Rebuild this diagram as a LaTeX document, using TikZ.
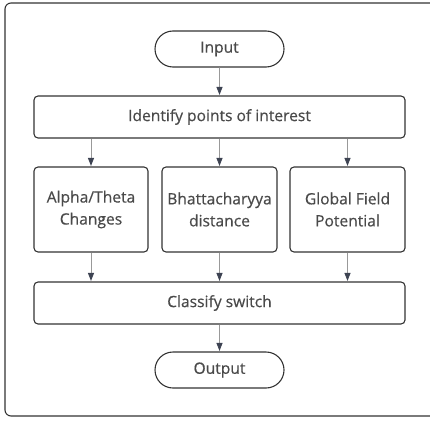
\documentclass[tikz,border=0pt]{standalone}
\usepackage{fontspec}
\setmainfont{Open Sans}
\newfontfamily\lblfont{Open Sans}[FakeBold=0.5]
\usetikzlibrary{arrows.meta,shapes.misc}
\definecolor{linec}{HTML}{333333}
\definecolor{textc}{HTML}{4A4A4A}
\definecolor{arrc}{HTML}{999999}
\definecolor{tipc}{HTML}{3D4352}
\tikzset{
  lbl/.style={text=textc, font=\lblfont\fontsize{15.6}{22}\selectfont, align=center, inner sep=0pt},
  box/.style={lbl, draw=linec, line width=1.1pt, rounded corners=4pt},
  term/.style={lbl, draw=linec, line width=1.1pt, rounded rectangle, minimum width=129pt, minimum height=36pt},
  conn/.style={draw=arrc, line width=0.9pt, -{Triangle[length=8pt,width=6pt,fill=tipc,color=tipc]}, shorten >=0.5pt}
}
\begin{document}
\begin{tikzpicture}[x=1pt,y=-1pt]
\useasboundingbox (0,0) rectangle (430,422);
\draw[draw=linec, line width=1.1pt, rounded corners=6pt] (5,3) rectangle (440,416);
\node[term] (in) at (219.5,49) {Input};
\node[box, minimum width=371pt, minimum height=42pt] (id) at (219.5,117) {Identify points of interest};
\node[box, minimum width=114pt, minimum height=85pt] (a) at (91,209.5) {Alpha/Theta\\Changes};
\node[box, minimum width=115pt, minimum height=85pt] (b) at (219.5,209.5) {Bhattacharyya\\distance};
\node[box, minimum width=115pt, minimum height=85pt] (c) at (347.5,209.5) {Global Field\\Potential};
\node[box, minimum width=371pt, minimum height=42pt] (cl) at (219.5,303) {Classify switch};
\node[term] (out) at (219.5,370) {Output};
\draw[conn] (in) -- (id);
\draw[conn] (id.south -| a) -- (a);
\draw[conn] (id) -- (b);
\draw[conn] (id.south -| c) -- (c);
\draw[conn] (a) -- (cl.north -| a);
\draw[conn] (b) -- (cl);
\draw[conn] (c) -- (cl.north -| c);
\draw[conn] (cl) -- (out);
\end{tikzpicture}
\end{document}
